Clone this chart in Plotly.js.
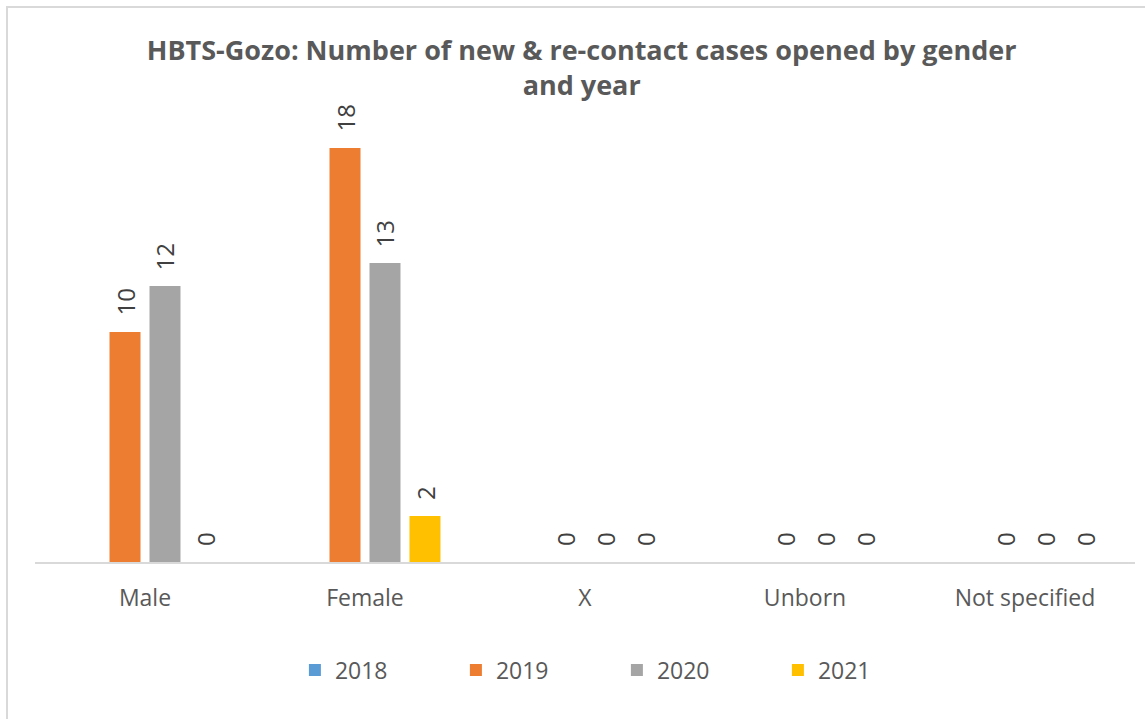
<!DOCTYPE html>
<html>
<head>
<meta charset="utf-8">
<script src="https://cdn.plot.ly/plotly-3.0.1.min.js"></script>
<style>
html, body { margin: 0; padding: 0; background: #fff; overflow: hidden; }
#frame { position: absolute; left: 6px; top: 6px; width: 1200px; height: 800px; border-left: 2px solid #d9d9d9; border-top: 2px solid #d9d9d9; }
#chart { position: absolute; left: 0; top: 0; width: 1145px; height: 719px; }
</style>
</head>
<body>
<div id="frame"></div>
<div id="chart"></div>
<script>
const categories = ["Male", "Female", "X", "Unborn", "Not specified"];
const years = ["2018", "2019", "2020", "2021"];
const v2018 = [null, null, null, null, null];
const v2019 = [10, 18, 0, 0, 0];
const v2020 = [12, 13, 0, 0, 0];
const v2021 = [0, 2, 0, 0, 0];
const colors = ["#5B9BD5", "#ED7D31", "#A5A5A5", "#FFC000"];

const FONT = "Open Sans, Noto Sans, sans-serif";
const series = [v2018, v2019, v2020, v2021];

const W = 1145, H = 719;
const margin = { l: 35, r: 10, t: 102, b: 157 };
const bargap = 0.273, bargroupgap = 0.225;
const slotPx = (W - margin.l - margin.r) / categories.length * (1 - bargap) / series.length;

const traces = series.map((vals, i) => ({
  type: "bar",
  name: years[i],
  x: categories,
  y: vals,
  marker: { color: colors[i] },
  hoverinfo: "x+y+name"
}));

const annotations = [];
series.forEach((vals, i) => {
  vals.forEach((v, j) => {
    if (v === null) return;
    annotations.push({
      x: categories[j], y: v, xref: "x", yref: "y",
      text: String(v), showarrow: false, textangle: -90,
      xanchor: "center", yanchor: "bottom",
      xshift: (i - (series.length - 1) / 2) * slotPx,
      yshift: 14,
      font: { family: FONT, size: 24, color: "#404040" }
    });
  });
});

const layout = {
  width: W,
  height: H,
  paper_bgcolor: "rgba(0,0,0,0)",
  plot_bgcolor: "rgba(0,0,0,0)",
  margin: margin,
  barmode: "group",
  bargap: bargap,
  bargroupgap: bargroupgap,
  title: {
    text: "<b>HBTS-Gozo: Number of new & re-contact cases opened by gender<br>and year</b>",
    font: { family: FONT, size: 27, color: "#595959" },
    x: 0.508, xanchor: "center",
    y: 0.916, yanchor: "middle", yref: "container"
  },
  xaxis: {
    showline: true, linecolor: "#d9d9d9", linewidth: 2,
    ticks: "", showgrid: false, zeroline: false,
    tickfont: { family: FONT, size: 23, color: "#595959" },
    ticklabelstandoff: 14,
    fixedrange: true
  },
  yaxis: {
    range: [0, 20], visible: false, showgrid: false, zeroline: false, fixedrange: true
  },
  annotations: annotations,
  showlegend: true,
  legend: {
    orientation: "h",
    x: 0.529, xanchor: "center",
    y: 0.068, yanchor: "middle", yref: "container",
    font: { family: FONT, size: 23, color: "#595959" },
    entrywidth: 116, entrywidthmode: "pixels",
    traceorder: "normal"
  },
  font: { family: FONT }
};

Plotly.newPlot("chart", traces, layout, { displayModeBar: false, staticPlot: true });
</script>
</body>
</html>
